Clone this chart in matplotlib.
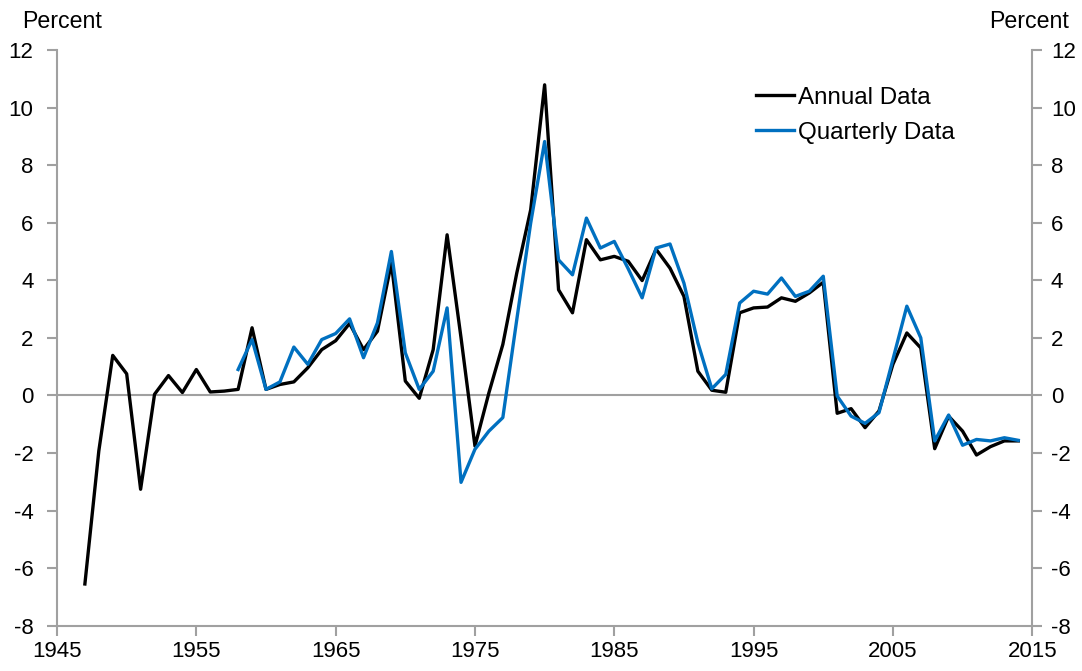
import matplotlib
matplotlib.use("Agg")
import matplotlib.pyplot as plt

annual_years = list(range(1947, 2015))
annual_values = [-6.55, -1.93, 1.39, 0.75, -3.26, 0.04, 0.69, 0.10, 0.90, 0.12,
                 0.15, 0.21, 2.35, 0.21, 0.38, 0.47, 0.96, 1.59, 1.90, 2.50,
                 1.59, 2.23, 4.60, 0.50, -0.10, 1.59, 5.58, 2.00, -1.76, 0.09,
                 1.77, 4.25, 6.45, 10.79, 3.67, 2.87, 5.41, 4.71, 4.83, 4.66,
                 3.99, 5.08, 4.42, 3.44, 0.84, 0.18, 0.11, 2.87, 3.04, 3.07,
                 3.39, 3.27, 3.56, 3.93, -0.62, -0.46, -1.12, -0.54, 1.08, 2.17,
                 1.65, -1.85, -0.72, -1.24, -2.07, -1.78, -1.58, -1.58]

quarterly_years = list(range(1958, 2015))
quarterly_values = [0.90, 1.94, 0.21, 0.47, 1.68, 1.08, 1.94, 2.15, 2.66, 1.31,
                    2.52, 5.00, 1.48, 0.21, 0.84, 3.04, -3.02, -1.87, -1.24, -0.77,
                    2.63, 5.99, 8.82, 4.71, 4.19, 6.16, 5.12, 5.35, 4.40, 3.39,
                    5.12, 5.26, 3.90, 1.83, 0.23, 0.73, 3.21, 3.62, 3.52, 4.08,
                    3.44, 3.62, 4.14, -0.02, -0.72, -0.97, -0.60, 1.25, 3.10, 2.00,
                    -1.58, -0.68, -1.73, -1.53, -1.58, -1.47, -1.56]

x_ticks = list(range(1945, 2016, 10))
y_ticks = list(range(-8, 13, 2))

plt.rcParams['font.family'] = ['Liberation Sans', 'DejaVu Sans']
plt.rcParams['axes.unicode_minus'] = False
fig = plt.figure(figsize=(10.82, 6.71), dpi=100)
ax = fig.add_axes([0.0527, 0.0675, 0.9013, 0.858])

gray = '#a0a0a0'
ax.axhline(0, color=gray, lw=1.5, zorder=1)
ax.plot(annual_years, annual_values, color='black', lw=2.4, label='Annual Data', zorder=3)
ax.plot(quarterly_years, quarterly_values, color='#0070C0', lw=2.4, label='Quarterly Data', zorder=4)

ax.set_xlim(1945, 2015)
ax.set_ylim(-8, 12)
ax.set_xticks(x_ticks)
ax.set_yticks(y_ticks)
for s in ['left', 'right', 'bottom']:
    ax.spines[s].set_color(gray)
    ax.spines[s].set_linewidth(1.5)
ax.spines['top'].set_visible(False)
ax.tick_params(axis='both', colors=gray, labelcolor='black', labelsize=16,
               width=1.5, length=7, direction='out')
ax.tick_params(axis='y', pad=10)
ax.tick_params(axis='x', pad=4)

ax2 = ax.twinx()
ax2.set_ylim(-8, 12)
ax2.set_yticks(y_ticks)
for s in ['left', 'right', 'bottom', 'top']:
    ax2.spines[s].set_visible(False)
ax2.tick_params(axis='y', colors=gray, labelcolor='black', labelsize=16,
                width=1.5, length=7, direction='out', pad=6.5)

fig.text(0.0203, 0.968, 'Percent', fontsize=16.7, ha='left', va='center')
fig.text(0.988, 0.968, 'Percent', fontsize=16.7, ha='right', va='center')

leg = ax.legend(loc='upper left', bbox_to_anchor=(0.707, 0.953), frameon=False,
                fontsize=17.4, handlelength=1.57, handletextpad=0.165,
                labelspacing=0.53, borderaxespad=0)

fig.savefig('out.png', dpi=100)
